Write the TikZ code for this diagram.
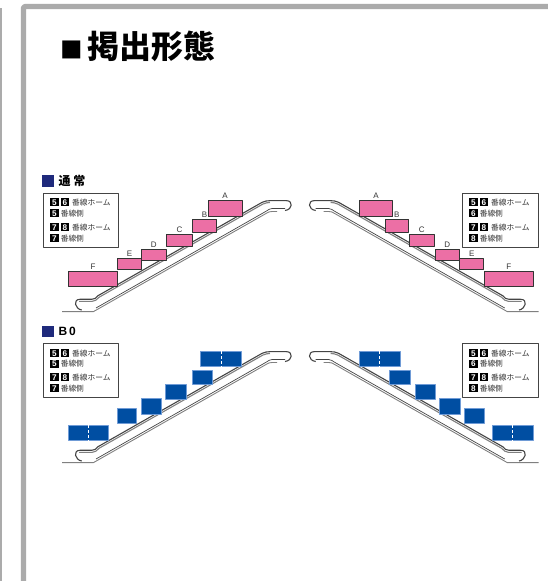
\documentclass[tikz,border=0pt]{standalone}
\usepackage{fontspec}
\setmainfont{Liberation Sans}
\newfontfamily\cjk{Noto Sans CJK JP}
\definecolor{framegray}{HTML}{ABABAB}
\definecolor{headnavy}{HTML}{1F2A7C}
\definecolor{posterpink}{HTML}{EC6FA5}
\definecolor{posterblue}{HTML}{004EA2}
\definecolor{edgeblue}{HTML}{6F9BD6}
\definecolor{railgray}{HTML}{444444}
\setlength{\fboxsep}{1bp}
\newcommand{\numkey}[1]{\colorbox{black}{\makebox[6.4bp]{\rule{0pt}{6bp}\textcolor{white}{\fontsize{8.2bp}{8bp}\selectfont\bfseries #1}}}}
\newcommand{\rowa}[2]{\numkey{#1}\hspace{2.2bp}\numkey{#2}\hspace{3bp}{\cjk 番線ホーム}}
\newcommand{\rowb}[1]{\numkey{#1}\hspace{2.2bp}{\cjk 番線側}}
\tikzset{
  legendbox/.style={draw=railgray,line width=0.9bp,fill=white,minimum width=75bp,minimum height=54bp,inner sep=0pt},
  legendrow/.style={anchor=west,inner sep=0pt,text=black!80,font=\fontsize{7.7bp}{8bp}\selectfont},
  pinkbox/.style={draw=black!80,line width=0.9bp,fill=posterpink,inner sep=0pt,label={[label distance=0.2bp,inner sep=1pt,text=black!80,font=\fontsize{8bp}{8bp}\selectfont]above:#1}},
  bluebox/.style={draw=edgeblue,line width=0.6bp,fill=posterblue,inner sep=0pt},
  midline/.style={white,line width=0.6bp,densely dashed},
  heading/.style={anchor=west,inner sep=0pt,font=\fontsize{12bp}{12bp}\selectfont\bfseries},
  escalator/.pic={
    \draw [railgray,line width=1.1bp] (81.7bp,271bp) ..controls (75bp,272bp) and (72.5bp,281.7bp) .. (80bp,281.7bp) -- (91.7bp,281.7bp) ..controls (94.5bp,281.7bp) and (96bp,282.9bp) .. (98bp,285.3bp) -- (262bp,378.6bp) ..controls (265bp,380bp) and (267bp,380.3bp) .. (270bp,380.3bp) -- (286.7bp,380.3bp) ..controls (293bp,380.3bp) and (293bp,371.5bp) .. (285bp,370.5bp);
    \draw [gray,line width=1.1bp] (79bp,279.6bp) -- (92bp,279.6bp) ..controls (95bp,279.6bp) and (97bp,281.4bp) .. (99bp,283.7bp) -- (263bp,377bp) ..controls (266bp,378.4bp) and (268bp,378.4bp) .. (270bp,378.4bp);
    \draw [gray,line width=0.9bp] (62bp,269.3bp) -- (93.3bp,269.3bp) -- (266bp,367.5bp) ..controls (268bp,369bp) and (270bp,369.5bp) .. (272bp,369.5bp) -- (277bp,369.5bp);
    \draw [railgray,line width=0.7bp] (96bp,273bp) -- (266bp,369.7bp) ..controls (268bp,371bp) and (270bp,372.5bp) .. (272bp,372.5bp) -- (285bp,372.5bp);
  },
}
\begin{document}
\begin{tikzpicture}[line join=bevel]
\useasboundingbox (0bp,0bp) rectangle (548bp,581bp);
%%
\fill [framegray] (0bp,0bp) rectangle (2bp,573bp);
\draw [framegray,line width=5.3bp,rounded corners=2bp] (23.4bp,0bp) -- (23.4bp,574.5bp) -- (548bp,574.5bp);
\node (title) at (60bp,535bp) [anchor=west,inner sep=0pt,font=\fontsize{32bp}{32bp}\selectfont\bfseries\cjk] {{\fontsize{22.5bp}{32bp}\selectfont ■}\hspace{5bp}掲出形態};
%%
\node (mark_1) at (48bp,400.2bp) [fill=headnavy,minimum size=11.5bp,inner sep=0pt] {};
\node (head_1) at (58.3bp,400.2bp) [heading] {\cjk 通\hspace{3bp}常};
\node (mark_2) at (48bp,249.5bp) [fill=headnavy,minimum size=11.5bp,inner sep=0pt] {};
\node (head_2) at (58.3bp,249.5bp) [heading] {B\hspace{2bp}0};
%%
\pic (esc_1) at (0bp,0bp) {escalator};
\pic (esc_2) [xscale=-1] at (600.7bp,0bp) {escalator};
\pic (esc_3) at (0bp,-151bp) {escalator};
\pic (esc_4) [xscale=-1] at (600.7bp,-151bp) {escalator};
%%
\node (left_a) at (225bp,372.3bp) [pinkbox=A,minimum width=34bp,minimum height=16bp] {};
\node (left_b) at (204.5bp,355.3bp) [pinkbox=B,minimum width=24.4bp,minimum height=12.7bp] {};
\node (left_c) at (179.5bp,340.5bp) [pinkbox=C,minimum width=25.6bp,minimum height=12.4bp] {};
\node (left_d) at (153.7bp,326bp) [pinkbox=D,minimum width=24.7bp,minimum height=11.4bp] {};
\node (left_e) at (129.5bp,316.7bp) [pinkbox=E,minimum width=23.6bp,minimum height=11.3bp] {};
\node (left_f) at (93bp,302bp) [pinkbox=F,minimum width=49.4bp,minimum height=15.4bp] {};
\node (right_a) at (376bp,372.3bp) [pinkbox=A,minimum width=33.4bp,minimum height=16bp] {};
\node (right_b) at (396.8bp,355.3bp) [pinkbox=B,minimum width=23.7bp,minimum height=12.7bp] {};
\node (right_c) at (421.8bp,340.5bp) [pinkbox=C,minimum width=25bp,minimum height=12.4bp] {};
\node (right_d) at (447.3bp,326bp) [pinkbox=D,minimum width=24.7bp,minimum height=11.4bp] {};
\node (right_e) at (471.7bp,316.7bp) [pinkbox=E,minimum width=24bp,minimum height=11.3bp] {};
\node (right_f) at (508.8bp,302bp) [pinkbox=F,minimum width=49bp,minimum height=15.4bp] {};
%%
\node (lower_a) at (221.2bp,221.8bp) [bluebox,minimum width=41bp,minimum height=15bp] {};
\node (lower_b) at (202.2bp,203.8bp) [bluebox,minimum width=20.3bp,minimum height=14.3bp] {};
\node (lower_c) at (175.8bp,189bp) [bluebox,minimum width=20.3bp,minimum height=14.6bp] {};
\node (lower_d) at (151bp,174.7bp) [bluebox,minimum width=20bp,minimum height=15.3bp] {};
\node (lower_e) at (127bp,165bp) [bluebox,minimum width=19.4bp,minimum height=14.6bp] {};
\node (lower_f) at (88.5bp,148bp) [bluebox,minimum width=40.4bp,minimum height=14.6bp] {};
\node (far_a) at (379.7bp,221.8bp) [bluebox,minimum width=40.7bp,minimum height=15bp] {};
\node (far_b) at (399.7bp,203.8bp) [bluebox,minimum width=20.7bp,minimum height=14.3bp] {};
\node (far_c) at (425.2bp,189bp) [bluebox,minimum width=20.3bp,minimum height=14.6bp] {};
\node (far_d) at (450bp,174.7bp) [bluebox,minimum width=20.6bp,minimum height=15.3bp] {};
\node (far_e) at (474.5bp,165bp) [bluebox,minimum width=20.4bp,minimum height=14.6bp] {};
\node (far_f) at (512.7bp,148bp) [bluebox,minimum width=40.7bp,minimum height=14.6bp] {};
\draw [midline] (lower_a.north) -- (lower_a.south);
\draw [midline] (lower_f.north) -- (lower_f.south);
\draw [midline] (far_a.north) -- (far_a.south);
\draw [midline] (far_f.north) -- (far_f.south);
%%
\node (key_1) at (80.6bp,361bp) [legendbox] {};
\node (key_1a) at (50bp,378.7bp) [legendrow] {\rowa{5}{6}};
\node (key_1b) at (50bp,367.7bp) [legendrow] {\rowb{5}};
\node (key_1c) at (50bp,353.7bp) [legendrow] {\rowa{7}{8}};
\node (key_1d) at (50bp,342.7bp) [legendrow] {\rowb{7}};
\node (key_2) at (500.7bp,361bp) [legendbox,minimum width=76bp] {};
\node (key_2a) at (469bp,378.7bp) [legendrow] {\rowa{5}{6}};
\node (key_2b) at (469bp,367.7bp) [legendrow] {\rowb{6}};
\node (key_2c) at (469bp,353.7bp) [legendrow] {\rowa{7}{8}};
\node (key_2d) at (469bp,342.7bp) [legendrow] {\rowb{8}};
\node (key_3) at (80.6bp,210.5bp) [legendbox] {};
\node (key_3a) at (50bp,227.7bp) [legendrow] {\rowa{5}{6}};
\node (key_3b) at (50bp,217bp) [legendrow] {\rowb{5}};
\node (key_3c) at (50bp,203.7bp) [legendrow] {\rowa{7}{8}};
\node (key_3d) at (50bp,192.7bp) [legendrow] {\rowb{7}};
\node (key_4) at (500.7bp,210.5bp) [legendbox,minimum width=76bp] {};
\node (key_4a) at (469bp,227.7bp) [legendrow] {\rowa{5}{6}};
\node (key_4b) at (469bp,217bp) [legendrow] {\rowb{6}};
\node (key_4c) at (469bp,203.7bp) [legendrow] {\rowa{7}{8}};
\node (key_4d) at (469bp,192.7bp) [legendrow] {\rowb{8}};
%
\end{tikzpicture}
\end{document}
